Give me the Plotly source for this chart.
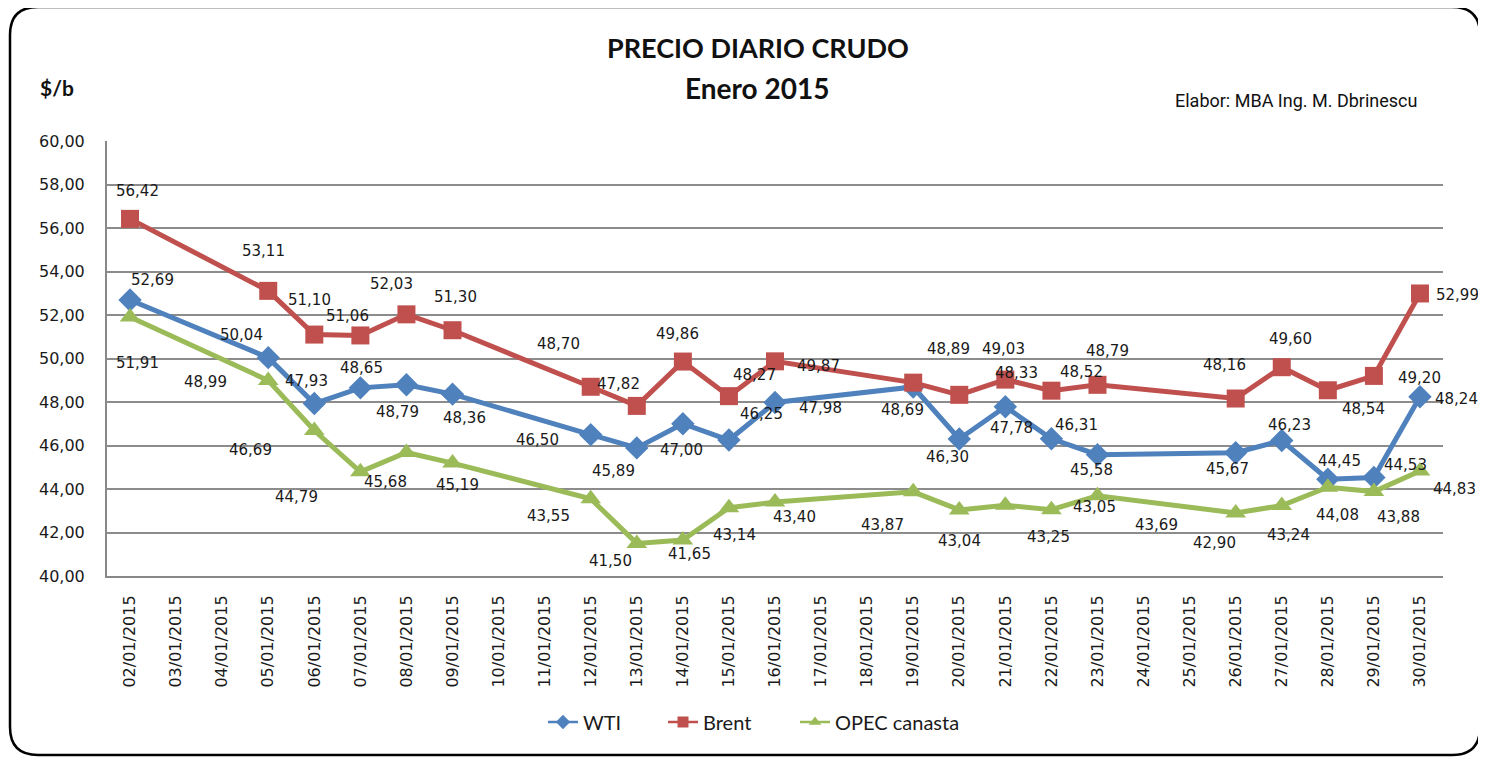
import plotly.graph_objects as go

# ---------------- data ----------------
all_days = ["%02d/01/2015" % d for d in range(2, 31)]

trade_days = ["02/01/2015", "05/01/2015", "06/01/2015", "07/01/2015", "08/01/2015",
              "09/01/2015", "12/01/2015", "13/01/2015", "14/01/2015", "15/01/2015",
              "16/01/2015", "19/01/2015", "20/01/2015", "21/01/2015", "22/01/2015",
              "23/01/2015", "26/01/2015", "27/01/2015", "28/01/2015", "29/01/2015",
              "30/01/2015"]

wti = [52.69, 50.04, 47.93, 48.65, 48.79, 48.36, 46.50, 45.89, 47.00, 46.25,
       47.98, 48.69, 46.30, 47.78, 46.31, 45.58, 45.67, 46.23, 44.45, 44.53, 48.24]
brent = [56.42, 53.11, 51.10, 51.06, 52.03, 51.30, 48.70, 47.82, 49.86, 48.27,
         49.87, 48.89, 48.33, 49.03, 48.52, 48.79, 48.16, 49.60, 48.54, 49.20, 52.99]
opec = [51.91, 48.99, 46.69, 44.79, 45.68, 45.19, 43.55, 41.50, 41.65, 43.14,
        43.40, 43.87, 43.04, 43.25, 43.05, 43.69, 42.90, 43.24, 44.08, 43.88, 44.83]

y_ticks = [40, 42, 44, 46, 48, 50, 52, 54, 56, 58, 60]

# data-label offsets in pixels (dx right, dy down) - style only
wti_off = [(22, -20), (-27, -23), (-8, -23), (1, -20), (-9, 27), (12, 24), (-53, 5),
           (-23, 23), (-1, 26), (33, -26), (45, 6), (-11, 23), (-12, 18), (6, 21),
           (25, -14), (-6, 15), (-8, 16), (8, -16), (12, -18), (32, -12), (37, 2)]
brent_off = [(7, -28), (-5, -40), (-5, -35), (-13, -19), (-15, -30), (3, -33), (-32, -43),
             (-18, -22), (-5, -28), (26, -21), (43, 5), (35, -34), (57, -22), (-2, -31),
             (30, -19), (10, -34), (-11, -34), (9, -28), (36, 19), (46, 2), (38, 2)]
opec_off = [(7, 46), (-63, 2), (-64, 20), (-64, 25), (-21, 30), (5, 22), (-42, 17),
            (-26, 18), (7, 14), (6, 27), (19, 15), (-31, 33), (0, 31), (43, 32),
            (43, -3), (59, 29), (-21, 30), (7, 29), (10, 28), (25, 25), (35, 18)]

# page is drawn with an 8px body margin
OFF = 8
W, H = 1486 - OFF, 757 - OFF
L, R, T, B = 107, 1443, 141, 576   # plot area in page pixels


def px(x):
    return (x - L) / (R - L)


def py(y):
    return (B - y) / (B - T)


lbl_font = dict(family="DejaVu Sans, Verdana, sans-serif", size=15, color="#1a1a1a")
tick_font = dict(family="DejaVu Sans, Verdana, sans-serif", size=16, color="#1a1a1a")
leg_font = dict(family="Lato, Open Sans, sans-serif", size=20, color="#1a1a1a")

fig = go.Figure()
series = [
    ("WTI", wti, "#4F81BD", "diamond", 18, wti_off, "legend", 543),
    ("Brent", brent, "#C0504D", "square", 18, brent_off, "legend2", 663),
    ("OPEC canasta", opec, "#9BBB59", "triangle-up", 18, opec_off, "legend3", 795),
]
legends = {}
for name, vals, col, sym, ms, offs, leg, lx in series:
    fig.add_trace(go.Scatter(
        x=trade_days, y=vals, name=name, mode="lines+markers", showlegend=False,
        line=dict(color=col, width=5),
        marker=dict(symbol=sym, size=ms, color=col),
        cliponaxis=False,
    ))
    # legend entry with thin line / small marker like the original
    fig.add_trace(go.Scatter(
        x=[None], y=[None], name=name, mode="lines+markers", legend=leg,
        line=dict(color=col, width=2.5),
        marker=dict(symbol=sym, size=11, color=col),
    ))
    legends[leg] = dict(orientation="h", x=px(lx), xanchor="left", y=py(722),
                        yanchor="middle", font=leg_font, bgcolor="rgba(0,0,0,0)")
    for xd, v, (dx, dy) in zip(trade_days, vals, offs):
        fig.add_annotation(x=xd, y=v, xref="x", yref="y", showarrow=False,
                           text=f"{v:.2f}".replace(".", ","),
                           xshift=dx, yshift=-dy, font=lbl_font)

fig.update_layout(
    width=W, height=H,
    margin=dict(l=L - OFF, r=1486 - R, t=T - OFF, b=757 - B),
    paper_bgcolor="white", plot_bgcolor="white",
    separators=",.",
    showlegend=True,
    xaxis=dict(type="category", categoryorder="array", categoryarray=all_days,
               range=[-0.5, len(all_days) - 0.5], tickangle=-90,
               tickfont=tick_font,
               showgrid=False, showline=True, linecolor="#888888", linewidth=2,
               ticks="", ticklabelstandoff=11),
    yaxis=dict(range=[40, 60], tickvals=y_ticks, tickformat=".2f",
               tickfont=tick_font,
               showgrid=True, gridcolor="#8c8c8c", gridwidth=2,
               showline=True, linecolor="#888888", linewidth=2, ticks="",
               ticklabelstandoff=17, zeroline=False),
    **legends,
)

ann = [
    dict(text="<b>PRECIO DIARIO CRUDO</b>", x=758, y=47, size=27,
         family="Lato, Open Sans, sans-serif"),
    dict(text="<b>Enero 2015</b>", x=757, y=88, size=28,
         family="Lato, Open Sans, sans-serif"),
    dict(text="<b>$/b</b>", x=57, y=88, size=21,
         family="Lato, Open Sans, sans-serif"),
    dict(text="Elabor: MBA Ing. M. Dbrinescu", x=1296, y=101, size=18,
         family="Liberation Sans Narrow, Arial Narrow, Roboto, sans-serif"),
]
for a in ann:
    fig.add_annotation(text=a["text"], x=px(a["x"]), y=py(a["y"]), xref="paper", yref="paper",
                       showarrow=False, xanchor="center", yanchor="middle",
                       font=dict(family=a["family"], size=a["size"], color="#111111"))

# rounded outer border (page pixels)
x0, y0, x1, y1, r = 10, 7, 1480, 755, 28
path = (f"M {px(x0)},{py(y0 + r)} "
        f"Q {px(x0)},{py(y0)} {px(x0 + r)},{py(y0)} "
        f"L {px(x1 - r)},{py(y0)} "
        f"Q {px(x1)},{py(y0)} {px(x1)},{py(y0 + r)} "
        f"L {px(x1)},{py(y1 - r)} "
        f"Q {px(x1)},{py(y1)} {px(x1 - r)},{py(y1)} "
        f"L {px(x0 + r)},{py(y1)} "
        f"Q {px(x0)},{py(y1)} {px(x0)},{py(y1 - r)} Z")
fig.add_shape(type="path", path=path, xref="paper", yref="paper",
              line=dict(color="black", width=2.5), layer="below")

fig.write_html("out.html")
